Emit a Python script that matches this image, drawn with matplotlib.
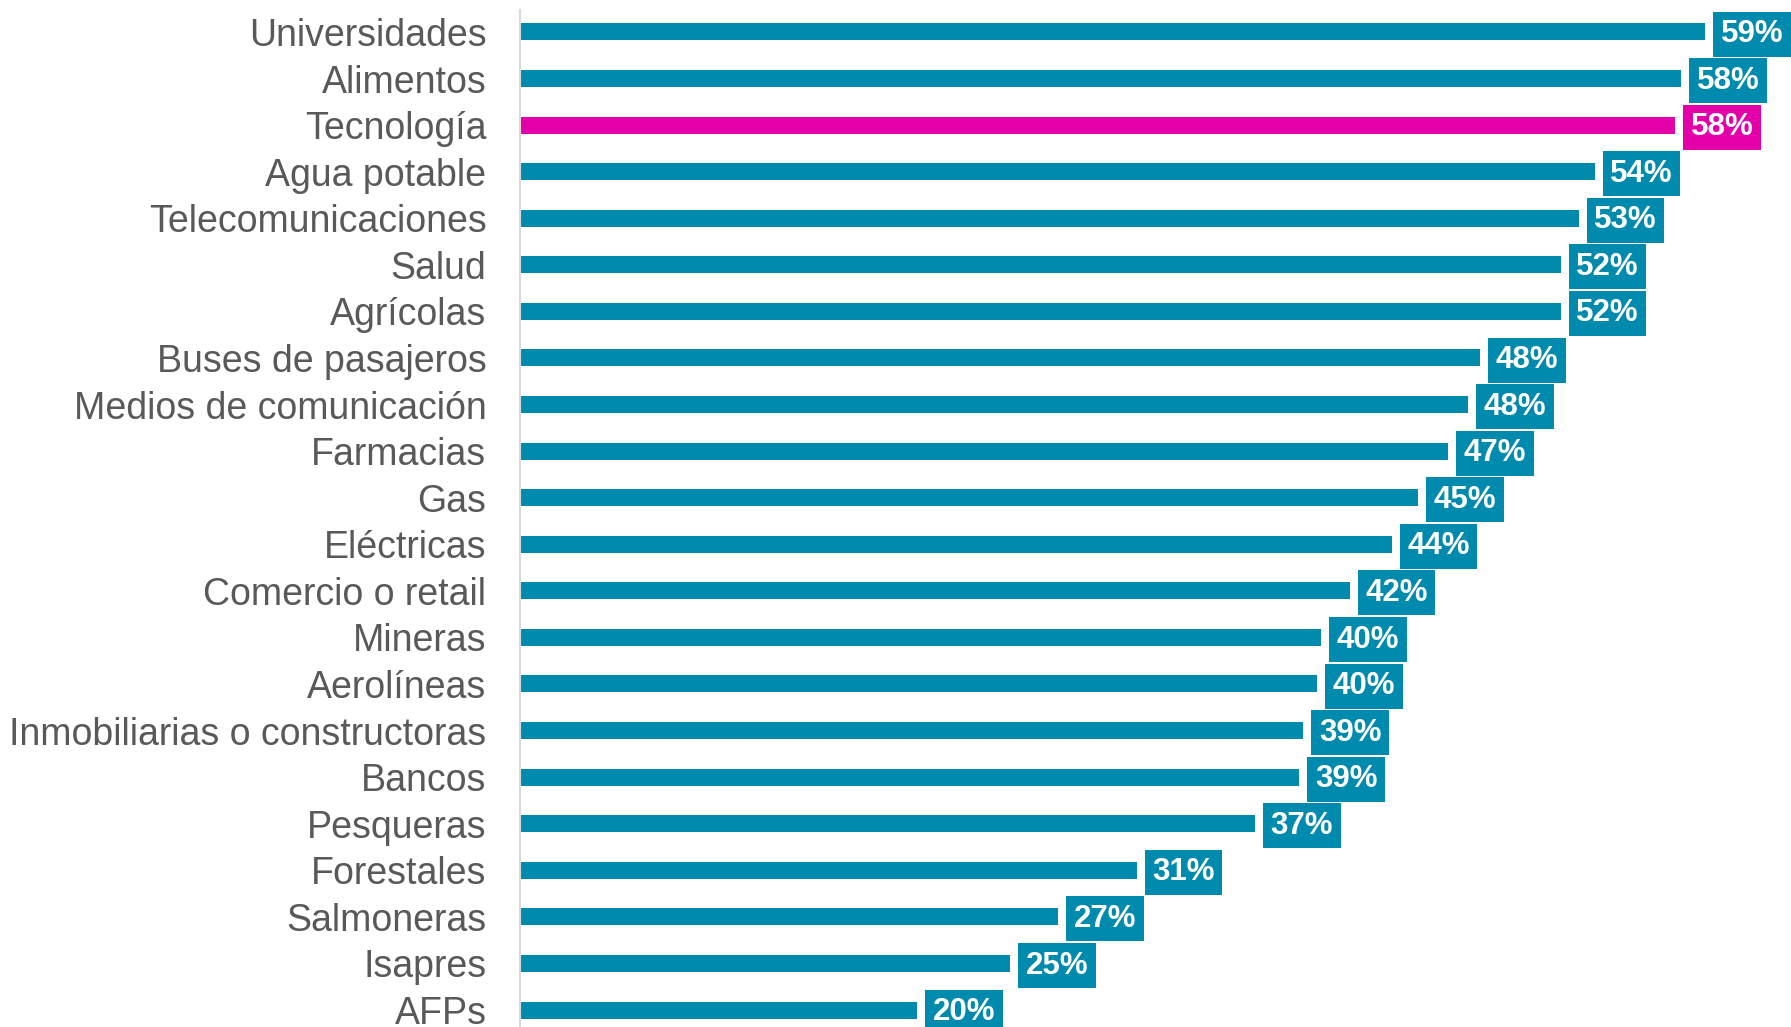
import matplotlib
matplotlib.use("Agg")
import matplotlib.pyplot as plt

plt.rcParams['font.family'] = ['Liberation Sans', 'DejaVu Sans']

categorias = ["Universidades", "Alimentos", "Tecnología", "Agua potable",
              "Telecomunicaciones", "Salud", "Agrícolas", "Buses de pasajeros",
              "Medios de comunicación", "Farmacias", "Gas", "Eléctricas",
              "Comercio o retail", "Mineras", "Aerolíneas",
              "Inmobiliarias o constructoras", "Bancos", "Pesqueras",
              "Forestales", "Salmoneras", "Isapres", "AFPs"]
valores = [59.0, 57.8, 57.5, 53.5, 52.7, 51.8, 51.8, 47.8, 47.2, 46.2, 44.7,
           43.4, 41.3, 39.9, 39.7, 39.0, 38.8, 36.6, 30.7, 26.8, 24.4, 19.8]
etiquetas = ["59%", "58%", "58%", "54%", "53%", "52%", "52%", "48%", "48%",
             "47%", "45%", "44%", "42%", "40%", "40%", "39%", "39%", "37%",
             "31%", "27%", "25%", "20%"]
destacado = "Tecnología"

azul = "#008AAD"
magenta = "#E300A9"

fig = plt.figure(figsize=(17.91, 10.27), dpi=100)
W, H = 1791, 1027
ax = fig.add_axes([519.5 / W, 0, (W - 519.5) / W, (H - 10) / H])

colores = [magenta if c == destacado else azul for c in categorias]
y = list(range(len(categorias)))
ax.barh(y, valores, height=0.365, color=colores)

ax.set_xlim(0, 63.26)
ax.set_ylim(21.365, -0.472)

ax.set_yticks(y)
ax.set_yticklabels(categorias, fontsize=27, color="#595959")
ax.tick_params(axis='y', length=0, pad=23.8)
ax.set_xticks([])

for s in ["top", "right", "bottom"]:
    ax.spines[s].set_visible(False)
ax.spines["left"].set_color("#D9D9D9")
ax.spines["left"].set_linewidth(1.5)

# etiquetas con caja del color de la barra
fs = 22.5
pad_pt = 5.4
for yi, v, txt, col in zip(y, valores, etiquetas, colores):
    ax.annotate(txt, xy=(v, yi), xytext=(8 / 1.389 + pad_pt, -1.5),
                textcoords="offset points", ha="left", va="center",
                fontsize=fs, fontweight="bold", color="white",
                annotation_clip=False,
                bbox=dict(boxstyle="square,pad=%.3f" % (pad_pt / fs),
                          facecolor=col, edgecolor="none"))

fig.savefig("out.png", dpi=100)
